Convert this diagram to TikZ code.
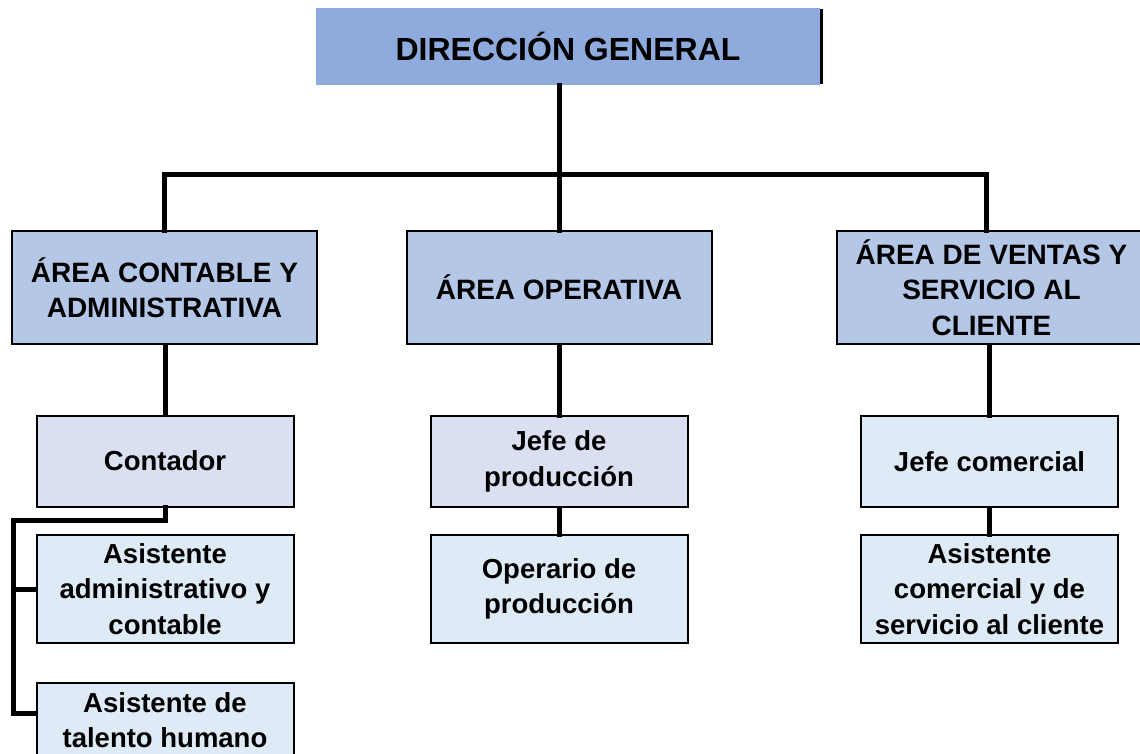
\documentclass[tikz,border=0pt]{standalone}
\usepackage{fontspec}
\setmainfont{Liberation Sans}
\begin{document}
\begin{tikzpicture}[x=1pt,y=-1pt,
  topbox/.style={fill=topfill,inner sep=0pt,minimum width=504pt,minimum height=77pt,font=\fontsize{32}{35}\selectfont\bfseries,align=center},
  areabox/.style={draw=black,line width=2pt,fill=areafill,inner sep=0pt,minimum width=#1,minimum height=113pt,font=\fontsize{28}{35.5}\selectfont\bfseries,align=center},
  chiefbox/.style={draw=black,line width=2pt,fill=#1,inner sep=0pt,minimum width=257pt,minimum height=91pt,font=\fontsize{27.5}{35.5}\selectfont\bfseries,align=center},
  asstbox/.style={draw=black,line width=2pt,fill=asstfill,inner sep=0pt,minimum width=257pt,minimum height=#1,font=\fontsize{27.5}{35.5}\selectfont\bfseries,align=center},
  conn/.style={line width=5pt,line join=miter,line cap=rect}]
\definecolor{topfill}{HTML}{8FAADC}
\definecolor{areafill}{HTML}{B4C7E7}
\definecolor{chieffill}{HTML}{DAE0F2}
\definecolor{asstfill}{HTML}{DEEBF7}
\useasboundingbox (0,0) rectangle (1140,754);
\fill[white] (0,0) rectangle (1140,754);

% connectors
\coordinate (bar) at (0,175);
\coordinate (elbowA) at (13,520);
\coordinate (elbowB) at (13,713);
\coordinate (branch) at (13,589);

\node[topbox] (top) at (568,46.5) {DIRECCIÓN GENERAL};
\draw[line width=3pt] ([xshift=1.5pt,yshift=-1pt]top.north east) -- ([xshift=1.5pt,yshift=1pt]top.south east);

\node[areabox=305pt] (areaL) at (164.5,287.5) {ÁREA CONTABLE Y\\ADMINISTRATIVA};
\node[areabox=305pt] (areaM) at (559,287.5) {ÁREA OPERATIVA};
\node[areabox=309pt] (areaR) at (991.5,287.5) {ÁREA DE VENTAS Y\\SERVICIO AL\\CLIENTE};

\node[chiefbox=chieffill] (cont) at (165,461) {Contador};
\node[asstbox=108pt] (asadm) at (165,589) {Asistente\\administrativo y\\contable};
\node[asstbox=74pt] (astal) at (165,720) {Asistente de\\talento humano};

\node[chiefbox=chieffill] (jprod) at (559,461.5) {Jefe de\\producción};
\node[asstbox=108pt] (oper) at (559,589) {Operario de\\producción};

\node[chiefbox=asstfill] (jcom) at (989.5,461.5) {Jefe comercial};
\node[asstbox=108pt] (ascom) at (989.5,589) {Asistente\\comercial y de\\servicio al cliente};

\coordinate (rdrop) at (986,0);

\begin{scope}[conn]
\draw (top.south -| areaM.north) -- (areaM.north);
\draw (areaL.north) -- (areaL.north |- bar) -- (rdrop |- bar) -- (rdrop |- areaR.north);
\draw (cont.north |- areaL.south) -- (cont.north);
\draw (cont.south) -- (cont.south |- elbowA) -- (elbowA) -- (elbowB) -- (astal.west |- elbowB);
\draw (branch) -- (asadm.west);
\draw (jprod.north |- areaM.south) -- (jprod.north);
\draw (jprod.south) -- (oper.north);
\draw (jcom.north |- areaR.south) -- (jcom.north);
\draw (jcom.south) -- (ascom.north);
\end{scope}
\end{tikzpicture}
\end{document}
